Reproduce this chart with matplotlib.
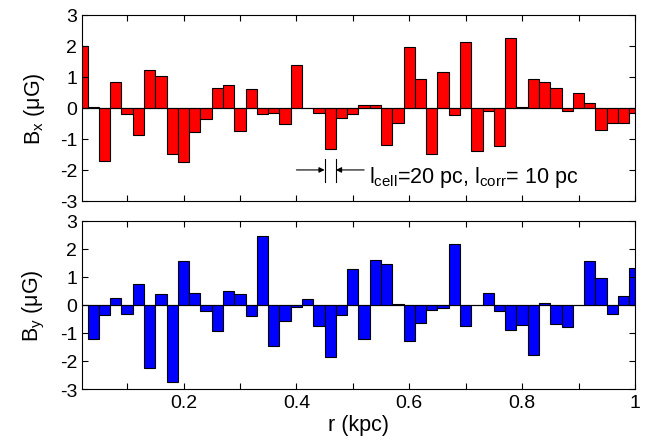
import numpy as np
import matplotlib
matplotlib.use("Agg")
import matplotlib.pyplot as plt
from matplotlib.ticker import MultipleLocator, FixedLocator

plt.rcParams['font.family'] = ['Liberation Sans', 'DejaVu Sans']
plt.rcParams['mathtext.fontset'] = 'custom'
plt.rcParams['mathtext.rm'] = 'Liberation Sans'
plt.rcParams['mathtext.it'] = 'Liberation Sans'
plt.rcParams['axes.unicode_minus'] = False

# cell centres along r (kpc), 20 pc cells
r = np.arange(1, 51) * 0.02

bx = [2.0, 0.03, -1.70, 0.83, -0.18, -0.86, 1.24, 1.03, -1.49, -1.73,
      -0.77, -0.35, 0.63, 0.75, -0.74, 0.61, -0.21, -0.15, -0.53, 1.38,
      0.0, -0.15, -1.33, -0.34, -0.19, 0.11, 0.11, -1.21, -0.47, 1.96,
      0.94, -1.50, 1.16, -0.24, 2.12, -1.39, -0.09, -1.23, 2.25, 0.03,
      0.93, 0.84, 0.64, -0.09, 0.47, 0.16, -0.70, -0.50, -0.50, -0.17]

by = [0.0, -1.21, -0.36, 0.26, -0.34, 0.76, -2.25, 0.37, -2.74, 1.57,
      0.44, -0.21, -0.93, 0.50, 0.40, -0.39, 2.44, -1.47, -0.56, -0.06,
      0.21, -0.74, -1.86, -0.37, 1.27, -1.20, 1.59, 1.46, 0.04, -1.28,
      -0.65, -0.17, -0.12, 2.17, -0.75, 0.0, 0.42, -0.23, -0.89, -0.72,
      -1.80, 0.08, -0.70, -0.78, 0.0, 1.55, 0.94, -0.31, 0.31, 1.31]

fig = plt.figure(figsize=(6.57, 4.39), dpi=100)
ax1 = fig.add_axes([0.1248, 0.540, 0.8417, 0.4236])
ax2 = fig.add_axes([0.1248, 0.1116, 0.8417, 0.3834])


def style(ax, vals, color, label):
    ax.bar(r, vals, width=0.02, color=color, edgecolor='black', linewidth=0.8)
    ax.axhline(0, color='black', lw=0.8, zorder=3)
    ax.set_xlim(0.02, 1.0)
    ax.set_ylim(-3, 3)
    ax.yaxis.set_major_locator(MultipleLocator(1))
    ax.xaxis.set_major_locator(FixedLocator([0.2, 0.4, 0.6, 0.8, 1.0]))
    ax.xaxis.set_minor_locator(FixedLocator([0.1, 0.3, 0.5, 0.7, 0.9]))
    ax.tick_params(which='both', direction='in', top=True, right=True,
                   length=4, width=0.8, labelsize=14)
    ax.set_ylabel(label, fontsize=15.5, labelpad=9)
    for s in ax.spines.values():
        s.set_linewidth(0.8)


style(ax1, bx, '#ff0000', r'B$_\mathrm{x}$ ($\mathrm{\mu}$G)')
style(ax2, by, '#0000ff', r'B$_\mathrm{y}$ ($\mathrm{\mu}$G)')

ax1.set_xticklabels([])
ax2.set_xticklabels(['0.2', '0.4', '0.6', '0.8', '1'])
ax2.set_xlabel('r (kpc)', fontsize=15.5, labelpad=2)

# cell-size marker
ya = -2.0
ax1.plot([0.45, 0.45], [-1.64, -2.38], color='black', lw=0.8)
ax1.plot([0.47, 0.47], [-1.64, -2.38], color='black', lw=0.8)
ax1.annotate('', xy=(0.45, ya), xytext=(0.40, ya),
             arrowprops=dict(arrowstyle='-|>', color='black', lw=0.8,
                             mutation_scale=8, shrinkA=0, shrinkB=0))
ax1.annotate('', xy=(0.47, ya), xytext=(0.52, ya),
             arrowprops=dict(arrowstyle='-|>', color='black', lw=0.8,
                             mutation_scale=8, shrinkA=0, shrinkB=0))
ax1.text(0.528, -2.2, r'l$_\mathrm{cell}$=20 pc, l$_\mathrm{corr}$= 10 pc',
         fontsize=15.5, va='center', ha='left')

fig.savefig('out.png', dpi=100)
